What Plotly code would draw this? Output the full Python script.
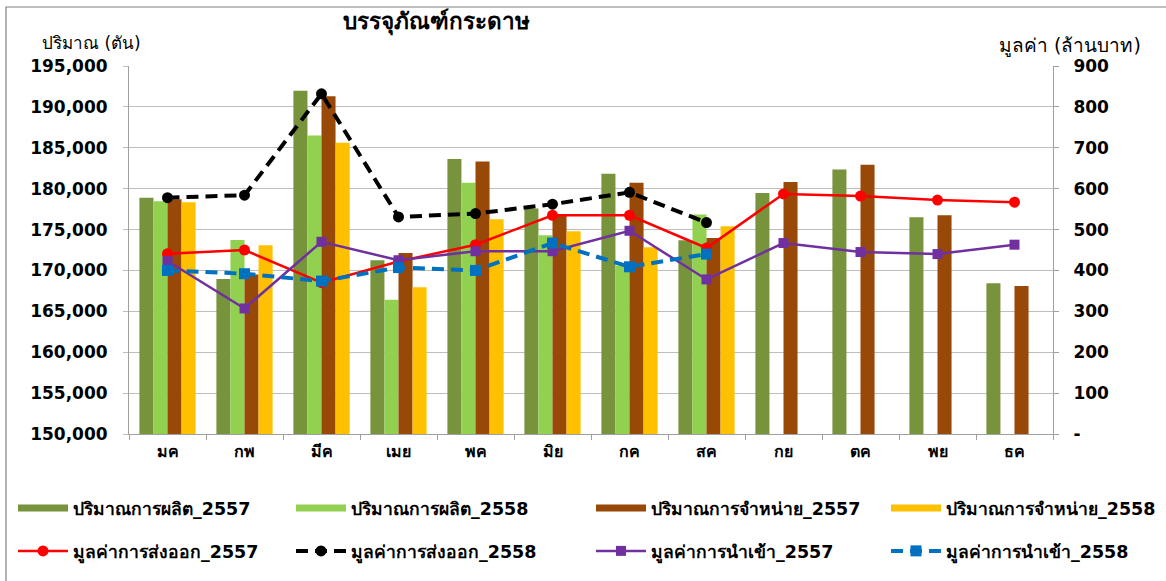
import plotly.graph_objects as go

months = ["มค", "กพ", "มีค", "เมย", "พค", "มิย", "กค", "สค", "กย", "ตค", "พย", "ธค"]

prod_2557 = [178900, 168960, 191960, 171250, 183640, 177570, 181810, 173690, 179480, 182340, 176510, 168430]
prod_2558 = [178460, 173730, 186500, 166430, 180710, 174300, 170600, 176830, None, None, None, None]
sales_2557 = [178700, 169490, 191310, 172140, 183320, 176900, 180710, 173980, 180830, 182910, 176750, 168100]
sales_2558 = [178340, 173080, 185600, 167940, 176260, 174790, 172840, 175410, None, None, None, None]

export_2557 = [441, 450, 370, 422, 463, 535, 535, 455, 587, 582, 572, 567]
export_2558 = [578, 584, 832, 531, 539, 562, 591, 517, None, None, None, None]
import_2557 = [423, 307, 470, 425, 447, 447, 497, 378, 467, 445, 440, 463]
import_2558 = [400, 392, 374, 407, 400, 467, 409, 440, None, None, None, None]

left_ticks = list(range(150000, 195001, 5000))
right_ticks = list(range(0, 901, 100))
right_ticktext = ["-"] + [str(v) for v in right_ticks[1:]]

FONT = "DejaVu Sans"
W, H = 1166, 581
ML, MR, MT, MB = 129, 113, 66, 147
PW, PH = W - ML - MR, H - MT - MB


def px(x):
    return (x - ML) / PW


def py(y):
    return (H - MB - y) / PH


# legend slot for each series: (column left px, row top px)
COLS = [13, 291, 591, 886]
ROWS = [490, 533]

fig = go.Figure()

bar_specs = [
    ("ปริมาณการผลิต_2557", prod_2557, "#77933C"),
    ("ปริมาณการผลิต_2558", prod_2558, "#92D050"),
    ("ปริมาณการจำหน่าย_2557", sales_2557, "#984807"),
    ("ปริมาณการจำหน่าย_2558", sales_2558, "#FFC000"),
]
line_specs = [
    ("มูลค่าการส่งออก_2557", export_2557, "#FF0000", "solid", 2.5, "circle", 11),
    ("มูลค่าการส่งออก_2558", export_2558, "#000000", "12px,7px", 4, "circle", 11),
    ("มูลค่าการนำเข้า_2557", import_2557, "#7030A0", "solid", 2.5, "square", 10),
    ("มูลค่าการนำเข้า_2558", import_2558, "#0070C0", "12px,7px", 4, "square", 11),
]

leg_font = dict(size=17.5, family=FONT, color="#000", weight="bold")
legends = {}
idx = 0
for i, (name, vals, col) in enumerate(bar_specs):
    idx += 1
    key = "legend" if idx == 1 else f"legend{idx}"
    fig.add_trace(go.Bar(x=months, y=vals, name=name, marker=dict(color=col, line=dict(width=0)),
                         showlegend=False))
    # legend-only entry drawn as a wide flat swatch like the original legend key
    fig.add_trace(go.Scatter(x=[None], y=[None], name=name, mode="lines",
                             line=dict(color=col, width=7), legend=key, hoverinfo="skip"))
    legends[key] = dict(x=px(COLS[i]), y=py(ROWS[0]), xanchor="left", yanchor="top",
                        font=leg_font, itemwidth=50, bgcolor="rgba(0,0,0,0)")
for i, (name, vals, col, dash, w, sym, size) in enumerate(line_specs):
    idx += 1
    key = f"legend{idx}"
    fig.add_trace(go.Scatter(x=months, y=vals, name=name, yaxis="y2", mode="lines+markers",
                             line=dict(color=col, width=w, dash=dash),
                             marker=dict(symbol=sym, size=size, color=col),
                             legend=key))
    legends[key] = dict(x=px(COLS[i]), y=py(ROWS[1]), xanchor="left", yanchor="top",
                        font=leg_font, itemwidth=50, bgcolor="rgba(0,0,0,0)")

tick_font = dict(size=17, family=FONT, color="#000", weight="bold")

fig.update_layout(
    width=W, height=H,
    margin=dict(l=ML, r=MR, t=MT, b=MB, autoexpand=False),
    paper_bgcolor="white", plot_bgcolor="white",
    font=dict(family=FONT, color="#000000"),
    barmode="group", bargap=0.27, bargroupgap=0,
    xaxis=dict(type="category", range=[-0.5, 11.5], tickson="boundaries", ticks="outside", ticklen=5,
               tickcolor="#A0A0A0", showline=True, linecolor="#A0A0A0", linewidth=1,
               showgrid=False, automargin=False, ticklabelstandoff=3,
               tickfont=dict(size=16, family=FONT, color="#000", weight="bold")),
    yaxis=dict(range=[150000, 195000], tickvals=left_ticks, tickformat=",",
               showgrid=True, gridcolor="#BEBEBE", gridwidth=1, showline=True,
               linecolor="#A0A0A0", ticks="outside", ticklen=5, tickcolor="#BEBEBE",
               zeroline=False, tickfont=tick_font, automargin=False,
               ticklabelstandoff=12),
    yaxis2=dict(range=[0, 900], overlaying="y", side="right", tickvals=right_ticks,
                ticktext=right_ticktext, showgrid=False, showline=True, linecolor="#A0A0A0",
                ticks="outside", ticklen=5, tickcolor="#A0A0A0", zeroline=False,
                tickfont=tick_font, automargin=False, ticklabelstandoff=11),
    showlegend=True,
    **legends,
)

fig.add_annotation(text="<b>บรรจุภัณฑ์กระดาษ</b>", xref="paper", yref="paper",
                   x=px(436), y=py(22), xanchor="center", yanchor="middle", showarrow=False,
                   font=dict(size=22.5, family=FONT, color="#000"))
fig.add_annotation(text="ปริมาณ (ตัน)", xref="paper", yref="paper",
                   x=px(91), y=py(43), xanchor="center", yanchor="middle", showarrow=False,
                   font=dict(size=17, family=FONT, color="#000"))
fig.add_annotation(text="มูลค่า (ล้านบาท)", xref="paper", yref="paper",
                   x=px(1070), y=py(46), xanchor="center", yanchor="middle", showarrow=False,
                   font=dict(size=19, family=FONT, color="#000"))

fig.add_shape(type="rect", xref="paper", yref="paper", x0=px(6), x1=px(1175), y0=py(590), y1=py(7),
              line=dict(color="#808080", width=1.2), fillcolor="rgba(0,0,0,0)", layer="above")

fig.write_html("out.html", config={"displayModeBar": False},
               post_script="document.body.style.margin='0';")
